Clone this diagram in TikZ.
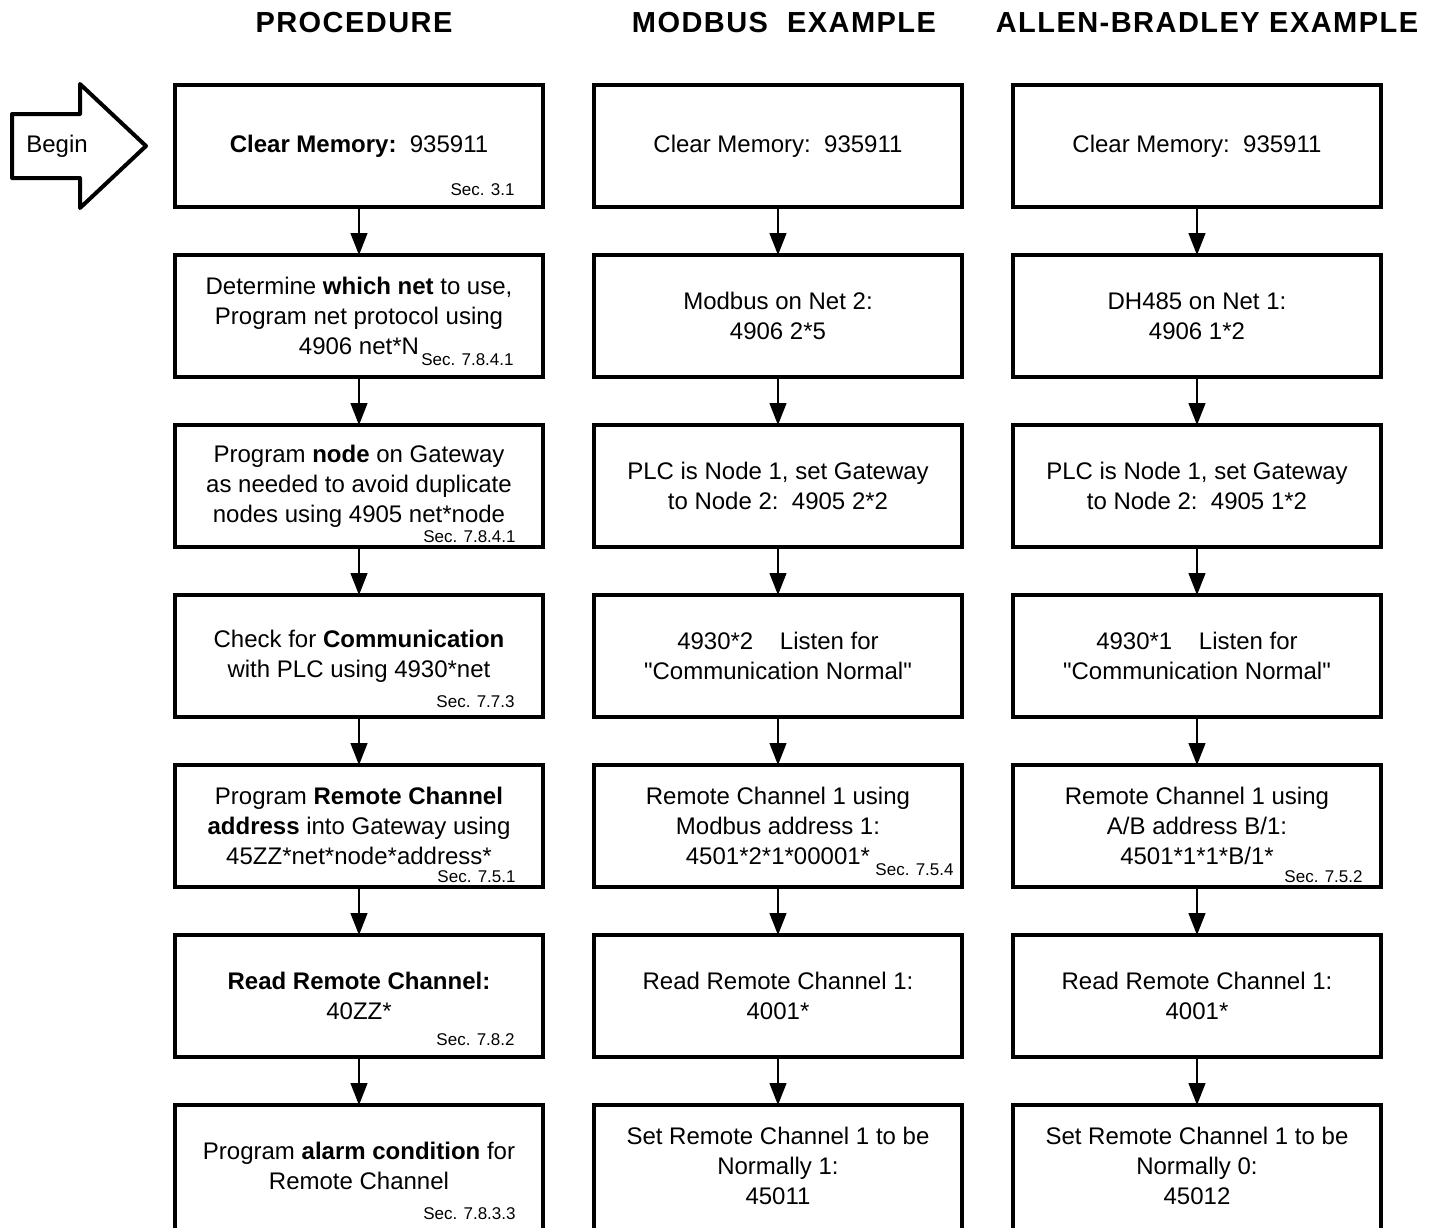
\documentclass[tikz,border=0pt]{standalone}
\usepackage{fontspec}
\setmainfont{Liberation Sans}
\newfontfamily\boxfont{Liberation Sans}
\usetikzlibrary{arrows.meta}
\tikzset{
  box/.style={draw, line width=2pt, minimum width=184pt, minimum height=61pt, inner sep=0pt, align=center, font=\boxfont\fontsize{12}{15}\selectfont},
  lastbox/.style={box, minimum height=76pt, text depth=15pt},
  sec/.style={font=\boxfont\fontsize{8.5}{10}\selectfont, inner sep=1pt, anchor=base east},
  secw/.style={sec, fill=white, inner ysep=1pt},
  head/.style={font=\boxfont\fontsize{14.5}{16}\selectfont\bfseries\addfontfeatures{LetterSpace=5}},
  flow/.style={-{Triangle[length=11pt,width=8.5pt]}, line width=0.65pt}
}

\begin{document}
\begin{tikzpicture}[x=0.5pt, y=-0.5pt]
\useasboundingbox (0,0) rectangle (1432,1228);
% column titles
\node[head] (h1) at (354,23) {PROCEDURE};
\node[head] (h2) at (784,23) {MODBUS\ \ EXAMPLE};
\node[head] (h3) at (1207,23) {ALLEN-BRADLEY EXAMPLE};
% begin arrow
\draw[line width=2pt, line join=round] (12,114) -- (80,114) -- (80,84) -- (146,146) -- (80,208) -- (80,178) -- (12,178) -- cycle;
\node (b) at (57,146) [font=\boxfont\fontsize{12}{15}\selectfont] {Begin};
\matrix (grid) [column sep=23.5pt, row sep=22pt, inner sep=0pt, outer sep=0pt, anchor=north west] at (173,83) {
\node[box](p1){\textbf{Clear Memory:}\ \ 935911}; & \node[box](m1){Clear Memory:\ \ 935911}; & \node[box](a1){Clear Memory:\ \ 935911}; \\
\node[box](p2){Determine \textbf{which net} to use,\\Program net protocol using\\4906 net*N}; & \node[box](m2){Modbus on Net 2:\\4906 2*5}; & \node[box](a2){DH485 on Net 1:\\4906 1*2}; \\
\node[box](p3){Program \textbf{node} on Gateway\\as needed to avoid duplicate\\nodes using 4905 net*node}; & \node[box](m3){PLC is Node 1, set Gateway\\to Node 2:\ \ 4905 2*2}; & \node[box](a3){PLC is Node 1, set Gateway\\to Node 2:\ \ 4905 1*2}; \\
\node[box](p4){Check for \textbf{Communication}\\with PLC using 4930*net}; & \node[box](m4){4930*2\ \ \ \ Listen for\\"Communication Normal"}; & \node[box](a4){4930*1\ \ \ \ Listen for\\"Communication Normal"}; \\
\node[box](p5){Program \textbf{Remote Channel}\\\textbf{address} into Gateway using\\45ZZ*net*node*address*}; & \node[box](m5){Remote Channel 1 using\\Modbus address 1:\\4501*2*1*00001*}; & \node[box](a5){Remote Channel 1 using\\A/B address B/1:\\4501*1*1*B/1*}; \\
\node[box](p6){\textbf{Read Remote Channel:}\\40ZZ*}; & \node[box](m6){Read Remote Channel 1:\\4001*}; & \node[box](a6){Read Remote Channel 1:\\4001*}; \\
\node[lastbox](p7){Program \textbf{alarm condition} for\\Remote Channel}; & \node[lastbox](m7){Set Remote Channel 1 to be\\Normally 1:\\45011}; & \node[lastbox](a7){Set Remote Channel 1 to be\\Normally 0:\\45012}; \\
};
% section references
\node[sec] (sp1) at ([xshift=-13pt,yshift=6pt]p1.south east) {Sec. 3.1};
\node[sec] (sp2) at ([xshift=-13.5pt,yshift=6pt]p2.south east) {Sec. 7.8.4.1};
\node[secw] (sp3) at ([xshift=-12.5pt,yshift=2.5pt]p3.south east) {Sec. 7.8.4.1};
\node[sec] (sp4) at ([xshift=-13pt,yshift=5pt]p4.south east) {Sec. 7.7.3};
\node[secw] (sp5) at ([xshift=-12.5pt,yshift=2.5pt]p5.south east) {Sec. 7.5.1};
\node[sec] (sp6) at ([xshift=-13pt,yshift=6pt]p6.south east) {Sec. 7.8.2};
\node[sec] (sp7) at ([xshift=-12.5pt,yshift=-57pt]p7.north east) {Sec. 7.8.3.3};
\node[sec] (sm5) at ([xshift=-3pt,yshift=6pt]m5.south east) {Sec. 7.5.4};
\node[secw] (sa5) at ([xshift=-8pt,yshift=2.5pt]a5.south east) {Sec. 7.5.2};
% flow
\draw[flow] (p1) -- (p2);
\draw[flow] (p2) -- (p3);
\draw[flow] (p3) -- (p4);
\draw[flow] (p4) -- (p5);
\draw[flow] (p5) -- (p6);
\draw[flow] (p6) -- (p7);
\draw[flow] (m1) -- (m2);
\draw[flow] (m2) -- (m3);
\draw[flow] (m3) -- (m4);
\draw[flow] (m4) -- (m5);
\draw[flow] (m5) -- (m6);
\draw[flow] (m6) -- (m7);
\draw[flow] (a1) -- (a2);
\draw[flow] (a2) -- (a3);
\draw[flow] (a3) -- (a4);
\draw[flow] (a4) -- (a5);
\draw[flow] (a5) -- (a6);
\draw[flow] (a6) -- (a7);
\end{tikzpicture}
\end{document}
